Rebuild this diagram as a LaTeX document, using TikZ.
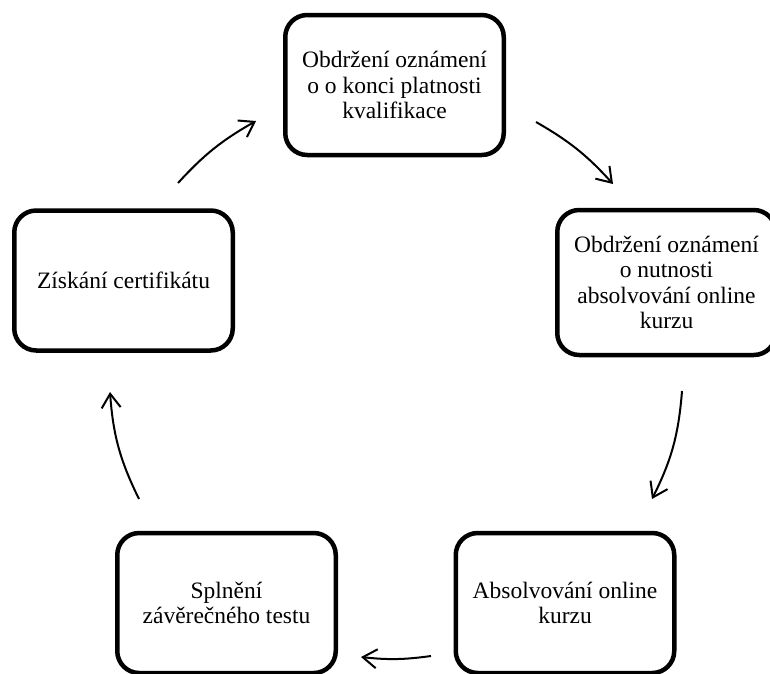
\documentclass[tikz,border=0pt]{standalone}
\usepackage{fontspec}
\setmainfont{Liberation Serif}
\usetikzlibrary{arrows.meta}
\begin{document}
\begin{tikzpicture}[x=1pt,y=-1pt,
  stage/.style={draw=black, line width=4.5pt, rounded corners=22pt, fill=white,
    minimum width=218.5pt, minimum height=140pt, align=center, inner sep=4pt,
    font=\fontsize{23.5}{25.5}\selectfont},
  flow/.style={line width=2pt, -{Straight Barb[length=14pt,width=19pt,line width=2pt]}}]
  \useasboundingbox (0,0) rectangle (770,673);

  % process steps
  \node[stage] (notice)  at (394.5,85)  {Obdržení oznámení\\o o konci platnosti\\kvalifikace};
  \node[stage, minimum height=145pt] (course) at (666.5,282.5) {Obdržení oznámení\\o nutnosti\\absolvování online\\kurzu};
  \node[stage] (online)  at (565,603)   {Absolvování online\\kurzu};
  \node[stage] (test)    at (226.5,603) {Splnění\\závěrečného testu};
  \node[stage] (cert)    at (123.5,280.5) {Získání certifikátu};

  % arrow end points on the cycle
  \coordinate (a1s) at (178,183); \coordinate (a1e) at (256,121);
  \coordinate (a2s) at (536,122); \coordinate (a2e) at (613,184);
  \coordinate (a3s) at (682,391); \coordinate (a3e) at (652,499);
  \coordinate (a4s) at (431,656); \coordinate (a4e) at (361,657);
  \coordinate (a5s) at (139,499); \coordinate (a5e) at (110,392);

  \draw[flow] (a1s) to[bend left=9] (a1e);
  \draw[flow] (a2s) to[bend left=9] (a2e);
  \draw[flow] (a3s) to[bend left=11] (a3e);
  \draw[flow] (a4s) to[bend left=7] (a4e);
  \draw[flow] (a5s) to[bend left=11] (a5e);
\end{tikzpicture}
\end{document}
